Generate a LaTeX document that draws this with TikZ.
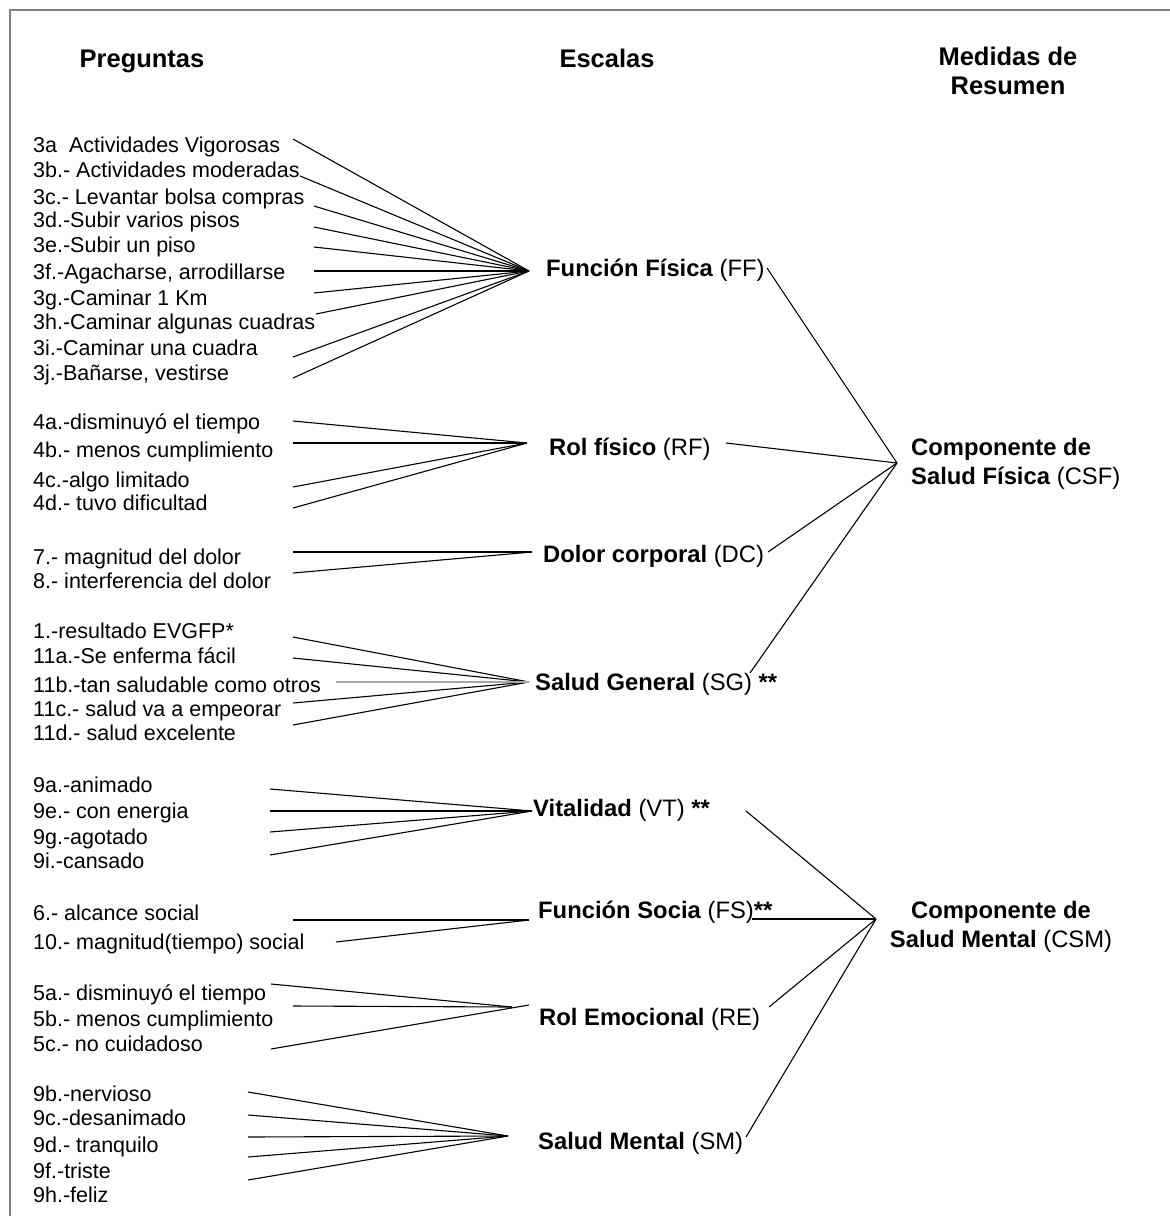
\documentclass[tikz,border=0pt]{standalone}
\usepackage{fontspec}
\setmainfont{Liberation Sans}
\begin{document}
\begin{tikzpicture}[x=1pt,y=-1pt,
  q/.style={anchor=west, inner sep=0pt, yshift=-1.5pt, font=\fontsize{21.5}{24}\selectfont, text height=15.5pt, text depth=4.3pt},
  sc/.style={anchor=west, inner sep=0pt, font=\fontsize{23.8}{27}\selectfont, text height=17pt, text depth=4.8pt},
  hd/.style={inner sep=0pt, anchor=base, font=\fontsize{25.5}{29}\selectfont\bfseries, align=center},
  comp/.style={inner sep=0pt, font=\fontsize{23.8}{29}\selectfont},
  ln/.style={line width=1.1pt, black},
  lnlight/.style={line width=1.3pt, black!35},
  frame/.style={black!50, line width=2pt}]
\useasboundingbox (0,0) rectangle (1170,1216);
\draw[frame] (10,1216) -- (10,10) -- (1170,10);

% headers
\node[hd] (hP) at (142,67) {Preguntas};
\node[hd] (hE) at (607,67) {Escalas};
\node[hd, anchor=north] (hM) at (1008,47) {Medidas de\\Resumen};

% questions
\foreach \n/\y/\t in {
  3a/145/{3a\ \ Actividades Vigorosas}, 3b/170/{3b.- Actividades moderadas},
  3c/197/{3c.- Levantar bolsa compras}, 3d/220/{3d.-Subir varios pisos},
  3e/245/{3e.-Subir un piso}, 3f/272/{3f.-Agacharse, arrodillarse},
  3g/298/{3g.-Caminar 1 Km}, 3h/322/{3h.-Caminar algunas cuadras},
  3i/348/{3i.-Caminar una cuadra}, 3j/373/{3j.-Bañarse, vestirse},
  4a/422/{4a.-disminuyó el tiempo}, 4b/450/{4b.- menos cumplimiento},
  4c/480/{4c.-algo limitado}, 4d/503/{4d.- tuvo dificultad},
  7/557/{7.- magnitud del dolor}, 8/581/{8.- interferencia del dolor},
  1/631/{1.-resultado EVGFP*}, 11a/656/{11a.-Se enferma fácil},
  11b/685/{11b.-tan saludable como otros}, 11c/709/{11c.- salud va a empeorar},
  11d/733/{11d.- salud excelente},
  9a/785/{9a.-animado}, 9e/811/{9e.- con energia}, 9g/837/{9g.-agotado}, 9i/861/{9i.-cansado},
  6/913/{6.- alcance social}, 10/942/{10.- magnitud(tiempo) social},
  5a/993/{5a.- disminuyó el tiempo}, 5b/1019/{5b.- menos cumplimiento}, 5c/1044/{5c.- no cuidadoso},
  9b/1094/{9b.-nervioso}, 9c/1118/{9c.-desanimado}, 9d/1145/{9d.- tranquilo},
  9f/1171/{9f.-triste}, 9h/1195/{9h.-feliz}}
  \node[q] (q\n) at (33,\y) {\t};

% scales
\node[sc] (FF) at (546,270) {\textbf{Función Física} (FF)};
\node[sc] (RF) at (549,449) {\textbf{Rol físico} (RF)};
\node[sc] (DC) at (543,556) {\textbf{Dolor corporal} (DC)};
\node[sc] (SG) at (535,684) {\textbf{Salud General} (SG) \textbf{**}};
\node[sc] (VT) at (533,810) {\textbf{Vitalidad} (VT) \textbf{**}};
\node[sc] (FS) at (538,912) {\textbf{Función Socia} (FS)\textbf{**}};
\node[sc] (RE) at (539,1019) {\textbf{Rol Emocional} (RE)};
\node[sc] (SM) at (538,1143) {\textbf{Salud Mental} (SM)};

% summary measures
\node[comp, anchor=west, align=left] (CSF) at (911,464) {\textbf{Componente de}\\\textbf{Salud Física} (CSF)};
\node[comp, align=center] (CSM) at (1001,927) {\textbf{Componente de}\\\textbf{Salud Mental} (CSM)};

% convergence points
\coordinate (cFF) at (529,271);
\coordinate (cRF) at (527,443);
\coordinate (cDC) at (532,552);
\coordinate (cSG) at (529,682);
\coordinate (cVT) at (532,811);
\coordinate (cFS) at (529,920);
\coordinate (cRE) at (512,1007);
\coordinate (cREb) at (529,1005);
\coordinate (cSM) at (508,1136);
\coordinate (cCSF) at (897,463);
\coordinate (cCSM) at (876,919);

% question line starts
\foreach \n/\x/\y in {3a/293/139, 3b/300/176, 3c/314/206, 3d/314/227, 3e/314/247,
  3f/314/271, 3g/314/293, 3h/316/314, 3i/293/357, 3j/293/378,
  4a/293/421, 4b/293/443, 4c/293/487, 4d/293/508,
  7/293/552, 8/293/573,
  1/293/637, 11a/293/658, 11b/336/682, 11c/293/703, 11d/293/725,
  9a/270/789, 9e/270/811, 9g/270/832, 9i/270/855,
  6/293/920, 10/336/942,
  5a/271/984, 5b/293/1006, 5c/271/1049,
  9b/248/1092, 9c/248/1115, 9d/248/1137, 9f/248/1157, 9h/248/1180}
  \coordinate (s\n) at (\x,\y);

% scale endpoints for right side
\coordinate (eFF) at (767,268);
\coordinate (eRF) at (726,443);
\coordinate (eDC) at (768,552);
\coordinate (eSG) at (750,673);
\coordinate (eVT) at (746,811);
\coordinate (eFS) at (752,919);
\coordinate (eRE) at (769,1007);
\coordinate (eSM) at (746,1137);

% fans
\foreach \n in {3a,3b,3c,3d,3e,3f,3g,3h,3i,3j} \draw[ln] (s\n) -- (cFF);
\foreach \n in {4a,4b,4c,4d} \draw[ln] (s\n) -- (cRF);
\foreach \n in {7,8} \draw[ln] (s\n) -- (cDC);
\foreach \n in {1,11a,11c,11d} \draw[ln] (s\n) -- (cSG);
\draw[lnlight] (s11b) -- (cSG);
\foreach \n in {9a,9e,9g,9i} \draw[ln] (s\n) -- (cVT);
\foreach \n in {6,10} \draw[ln] (s\n) -- (cFS);
\foreach \n in {5a,5b} \draw[ln] (s\n) -- (cRE);
\draw[ln] (s5c) -- (cREb);
\foreach \n in {9b,9c,9d,9f,9h} \draw[ln] (s\n) -- (cSM);

% to summary measures
\foreach \n in {FF,RF,DC,SG} \draw[ln] (e\n) -- (cCSF);
\foreach \n in {VT,FS,RE,SM} \draw[ln] (e\n) -- (cCSM);
\end{tikzpicture}
\end{document}
